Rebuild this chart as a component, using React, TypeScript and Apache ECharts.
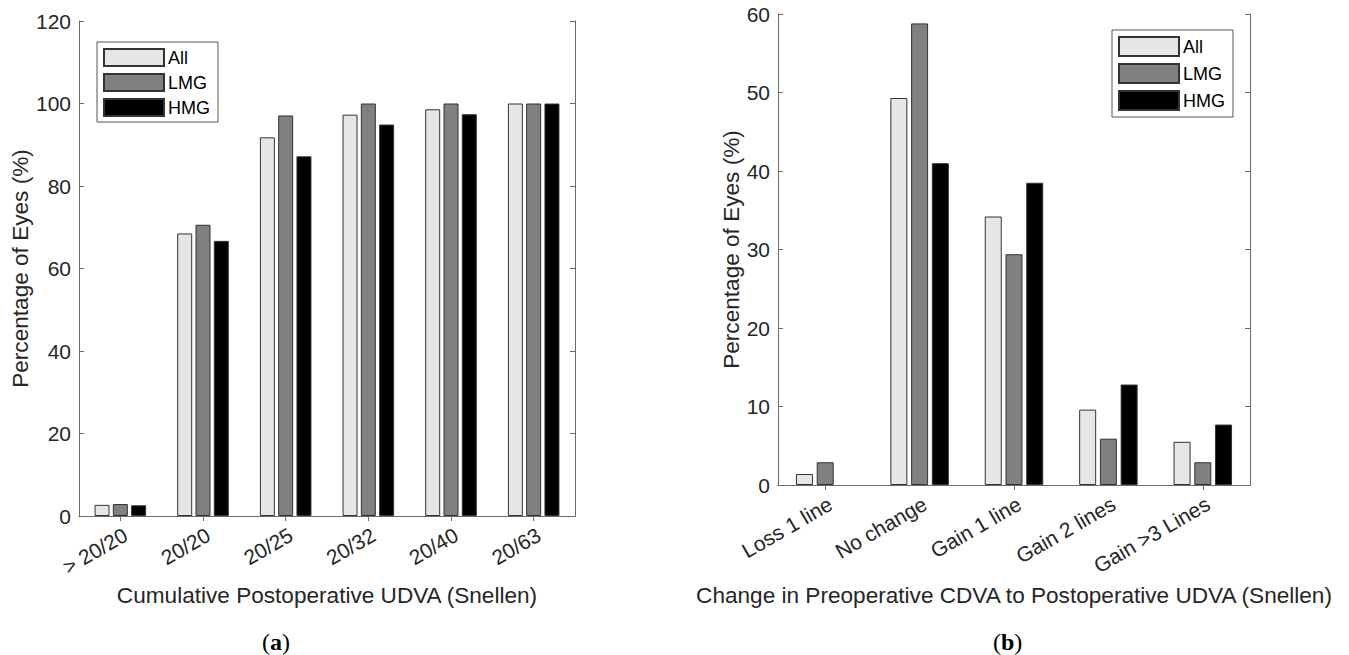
import React, { useEffect, useRef } from "react";
import * as echarts from "echarts";

const groups = ["All", "LMG", "HMG"];
const groupColors = ["#e6e6e6", "#808080", "#000000"];

const catsA = ["> 20/20", "20/20", "20/25", "20/32", "20/40", "20/63"];
const allA = [2.7, 68.5, 91.8, 97.3, 98.6, 100];
const lmgA = [2.9, 70.6, 97.1, 100, 100, 100];
const hmgA = [2.6, 66.7, 87.2, 94.9, 97.4, 100];
const yMaxA = 120;
const yStepA = 20;
const xNameA = "Cumulative Postoperative UDVA (Snellen)";

const catsB = ["Loss 1 line", "No change", "Gain 1 line", "Gain 2 lines", "Gain >3 Lines"];
const allB = [1.4, 49.3, 34.2, 9.6, 5.5];
const lmgB = [2.9, 58.8, 29.4, 5.9, 2.9];
const hmgB = [0, 41.0, 38.5, 12.8, 7.7];
const yMaxB = 60;
const yStepB = 10;
const xNameB = "Change in Preoperative CDVA to Postoperative UDVA (Snellen)";

const yName = "Percentage of Eyes (%)";

const FONT = "'Liberation Sans', Arial, Helvetica, sans-serif";
const AX = "#6a6a6a";
const TXT = "#262626";

export default function App() {
  const ref = useRef<HTMLDivElement>(null);
  useEffect(() => {
    if (!ref.current) return;
    const chart = echarts.init(ref.current, undefined, { renderer: "svg" });

    const grids = [
      { left: 79, top: 21, width: 496, height: 495 },
      { left: 778, top: 14, width: 472, height: 471 },
    ];
    const cats = [catsA, catsB];
    const yMax = [yMaxA, yMaxB];
    const yStep = [yStepA, yStepB];
    const xNames = [xNameA, xNameB];
    const data = [
      [allA, lmgA, hmgA],
      [allB, lmgB, hmgB],
    ];
    const barW = [15, 17];
    const yNameGap = [47, 33];
    const xNameGap = [68, 99];

    const xAxis: any[] = [];
    const yAxis: any[] = [];
    const series: any[] = [];
    for (let g = 0; g < 2; g++) {
      xAxis.push({
        type: "category",
        gridIndex: g,
        data: cats[g],
        position: "bottom",
        axisLine: { show: true, lineStyle: { color: AX, width: 1 } },
        axisTick: { show: true, inside: true, alignWithLabel: true, length: 5, lineStyle: { color: AX } },
        axisLabel: {
          rotate: 30,
          fontSize: 21,
          color: TXT,
          fontFamily: FONT,
          margin: 8,
          verticalAlign: "top",
        },
        name: xNames[g],
        nameLocation: "middle",
        nameGap: xNameGap[g],
        nameTextStyle: { fontSize: 22.6, color: TXT, fontFamily: FONT },
        splitLine: { show: false },
      });
      xAxis.push({
        type: "category",
        gridIndex: g,
        data: cats[g],
        position: "top",
        axisLine: { show: true, lineStyle: { color: AX, width: 1 } },
        axisTick: { show: true, inside: true, alignWithLabel: true, length: 5, lineStyle: { color: AX } },
        axisLabel: { show: false },
        splitLine: { show: false },
      });
      yAxis.push({
        type: "value",
        gridIndex: g,
        min: 0,
        max: yMax[g],
        interval: yStep[g],
        position: "left",
        axisLine: { show: true, lineStyle: { color: AX, width: 1 } },
        axisTick: { show: true, inside: true, length: 5, lineStyle: { color: AX } },
        axisLabel: { fontSize: 21, color: TXT, fontFamily: FONT, margin: 8 },
        splitLine: { show: false },
        name: yName,
        nameLocation: "middle",
        nameGap: yNameGap[g],
        nameTextStyle: { fontSize: 22.6, color: TXT, fontFamily: FONT },
      });
      yAxis.push({
        type: "value",
        gridIndex: g,
        min: 0,
        max: yMax[g],
        interval: yStep[g],
        position: "right",
        axisLine: { show: true, lineStyle: { color: AX, width: 1 } },
        axisTick: { show: true, inside: true, length: 5, lineStyle: { color: AX } },
        axisLabel: { show: false },
        splitLine: { show: false },
      });
      for (let s = 0; s < 3; s++) {
        series.push({
          type: "bar",
          name: groups[s],
          xAxisIndex: g * 2,
          yAxisIndex: g * 2,
          data: data[g][s].map((v) => (v === 0 ? { value: 0, itemStyle: { borderWidth: 0, opacity: 0 } } : v)),
          barWidth: barW[g],
          barGap: "22%",
          itemStyle: { color: groupColors[s], borderColor: "#333", borderWidth: 1 },
          emphasis: { disabled: true },
        });
      }
    }

    const legendBase = {
      orient: "vertical",
      data: groups,
      icon: "rect",
      itemWidth: 60,
      borderColor: "#555",
      borderWidth: 1,
      backgroundColor: "#fff",
      selectedMode: false,
    };

    chart.setOption({
      animation: false,
      grid: grids,
      xAxis,
      yAxis,
      series,
      legend: [
        {
          ...legendBase,
          left: 97,
          top: 42,
          itemHeight: 17,
          itemGap: 6,
          padding: [6, 8, 5, 6],
          textStyle: { fontSize: 18, lineHeight: 17, color: "#000", fontFamily: FONT, padding: [0, 0, 0, -1] },
        },
        {
          ...legendBase,
          left: 1112,
          top: 30,
          itemHeight: 19,
          itemGap: 6,
          padding: [6, 8, 6, 6],
          textStyle: { fontSize: 18, lineHeight: 19, color: "#000", fontFamily: FONT, padding: [0, 0, 0, -1] },
        },
      ],
      graphic: [
        {
          type: "text",
          left: 262,
          top: 630,
          style: {
            text: "({a|a})",
            font: "24px 'Liberation Serif', 'Times New Roman', serif",
            fill: "#000",
            rich: { a: { fontWeight: "bold", fontSize: 24, fontFamily: "'Liberation Serif', serif" } },
          },
        },
        {
          type: "text",
          left: 993,
          top: 630,
          style: {
            text: "({b|b})",
            font: "24px 'Liberation Serif', 'Times New Roman', serif",
            fill: "#000",
            rich: { b: { fontWeight: "bold", fontSize: 24, fontFamily: "'Liberation Serif', serif" } },
          },
        },
      ],
    });
    return () => chart.dispose();
  }, []);
  return (
    <div
      ref={ref}
      style={{ position: "absolute", left: 0, top: 0, width: 1349, height: 655, background: "#fff" }}
    />
  );
}
